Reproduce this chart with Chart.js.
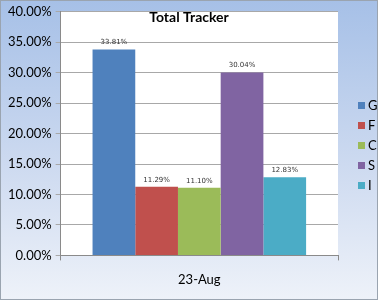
<!DOCTYPE html>
<html><head><meta charset="utf-8">
<script src="https://cdn.jsdelivr.net/npm/chart.js@4"></script>
<style>html,body{margin:0;padding:0;background:#fff;overflow:hidden}canvas{display:block}</style>
</head><body><canvas id="c" width="378" height="300"></canvas>
<script>
const categories = ['23-Aug'];
const seriesNames = ['G', 'F', 'C', 'S', 'I'];
const seriesValues = [33.81, 11.29, 11.10, 30.04, 12.83];
const seriesColors = ['#4f81bd', '#c0504d', '#9bbb59', '#8064a2', '#4bacc6'];
const chartTitle = 'Total Tracker';

const bgPlugin = {
  id: 'bg',
  beforeDraw(chart) {
    const ctx = chart.ctx, w = chart.width, h = chart.height, a = chart.chartArea;
    ctx.save();
    const g = ctx.createLinearGradient(0, 0, 0, h);
    g.addColorStop(0, '#a6c0e7');
    g.addColorStop(0.55, '#cddaf0');
    g.addColorStop(1, '#eef2f9');
    ctx.fillStyle = g;
    ctx.fillRect(0, 0, w, h);
    ctx.strokeStyle = '#9aa4b0';
    ctx.lineWidth = 1;
    ctx.strokeRect(0.5, 0.5, w - 1, h - 1);
    ctx.fillStyle = '#ffffff';
    ctx.fillRect(a.left, a.top, a.right - a.left, a.bottom - a.top);
    ctx.restore();
  },
  afterDatasetsDraw(chart) {
    const ctx = chart.ctx;
    ctx.save();
    ctx.font = '7px "DejaVu Sans"';
    ctx.fillStyle = '#333333';
    ctx.textAlign = 'center';
    ctx.textBaseline = 'alphabetic';
    chart.data.datasets.forEach((ds, i) => {
      const meta = chart.getDatasetMeta(i);
      meta.data.forEach((el, j) => {
        ctx.fillText(ds.data[j].toFixed(2) + '%', el.x, el.y - 5);
      });
    });
    ctx.font = 'bold 14px Lato';
    ctx.fillStyle = '#000000';
    ctx.textBaseline = 'middle';
    ctx.fillText(chartTitle, 189, 17);
    ctx.font = '13px Lato';
    ctx.textAlign = 'left';
    chart.data.datasets.forEach((ds, i) => {
      const y = 105 + i * 20;
      ctx.fillStyle = ds.backgroundColor;
      ctx.fillRect(358, y - 3, 7, 7);
      ctx.fillStyle = '#000';
      ctx.fillText(ds.label, 368, y + 1);
    });
    ctx.restore();
  }
};

new Chart(document.getElementById('c'), {
  type: 'bar',
  data: {
    labels: categories,
    datasets: seriesNames.map((n, i) => ({
      label: n,
      data: [seriesValues[i]],
      backgroundColor: seriesColors[i],
      borderWidth: 0
    }))
  },
  options: {
    responsive: false,
    animation: false,
    devicePixelRatio: 1,
    layout: { padding: { top: 0, left: 4, right: 40, bottom: 0 } },
    datasets: { bar: { categoryPercentage: 0.77, barPercentage: 1 } },
    plugins: {
      title: { display: false },
      tooltip: { enabled: false },
      legend: { display: false }
    },
    scales: {
      x: {
        grid: { drawOnChartArea: false, color: '#8a8a8a', tickLength: 5, offset: true },
        border: { color: '#8a8a8a' },
        ticks: { color: '#000', font: { family: 'Lato', size: 13 }, padding: 12, maxRotation: 0 }
      },
      y: {
        min: 0, max: 40,
        grid: { color: '#a8a8a8', tickLength: 5 },
        border: { color: '#8a8a8a' },
        ticks: {
          stepSize: 5, color: '#000', font: { family: 'Lato', size: 13 }, padding: 4,
          callback: v => v.toFixed(2) + '%'
        }
      }
    }
  },
  plugins: [bgPlugin]
});
</script></body></html>
